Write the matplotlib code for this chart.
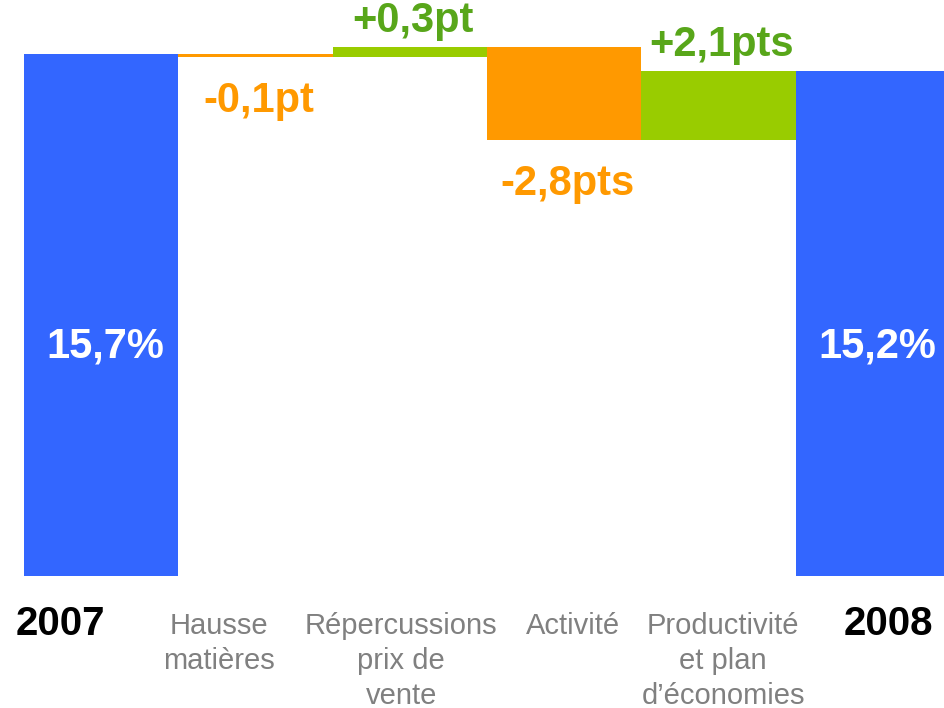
import numpy as np
import matplotlib.pyplot as plt
from matplotlib import transforms

plt.rcParams['font.family'] = ['Liberation Sans', 'DejaVu Sans']

categories = ['2007', 'Hausse\nmatières', 'Répercussions\nprix de\nvente', 'Activité',
              'Productivité\net plan\nd’économies', '2008']
values = [15.7, -0.1, 0.3, -2.8, 2.1, 15.2]
value_labels = ['15,7%', '-0,1pt', '+0,3pt', '-2,8pts', '+2,1pts', '15,2%']
is_total = [True, False, False, False, False, True]

BLUE = '#3366FF'
ORANGE = '#FF9900'
GREEN = '#99CC00'
GREEN_TXT = '#58A61A'
GREY = '#808080'

# label x offsets (in bar units) to match the original slide layout
label_dx = [-0.267, -0.236, -0.057, 0.058, 0.03, 0.10]

fig = plt.figure(figsize=(9.44, 7.08), dpi=100)
ax = fig.add_axes([24 / 944, 132 / 708, 920 / 944, 576 / 708])

x = np.arange(len(values))
bottoms, heights, colors = [], [], []
running = 0.0
for v, tot in zip(values, is_total):
    if tot:
        bottoms.append(0)
        heights.append(v)
        colors.append(BLUE)
        running = v
    else:
        bottoms.append(running)
        heights.append(v)
        colors.append(GREEN if v > 0 else ORANGE)
        running += v

ax.bar(x, heights, bottom=bottoms, width=1.0, color=colors, linewidth=0)

for i, (b, h, tot, lab) in enumerate(zip(bottoms, heights, is_total, value_labels)):
    if tot:
        ax.text(i + 0.03, 6.9, lab, ha='center', va='center', color='white',
                fontsize=30, fontweight='bold')
    elif h < 0:
        ax.annotate(lab, (i + 0.02, b + h), xytext=(0, -44), textcoords='offset pixels',
                    ha='center', va='center', color=ORANGE, fontsize=30, fontweight='bold')
    else:
        ax.annotate(lab, (i + 0.02, b + h), xytext=(0, 26), textcoords='offset pixels',
                    ha='center', va='center', color=GREEN_TXT, fontsize=30, fontweight='bold')

trans = transforms.blended_transform_factory(ax.transData, ax.transAxes)
for i, (cat, tot) in enumerate(zip(categories, is_total)):
    if tot:
        ax.text(i + label_dx[i], -0.083, cat, transform=trans, ha='center', va='center',
                fontsize=29, fontweight='bold', color='black', clip_on=False)
    else:
        ax.text(i + label_dx[i], -0.062, cat, transform=trans, ha='center', va='top',
                fontsize=21, color=GREY, linespacing=1.32, clip_on=False)

ax.set_xlim(-0.5, 5.46)
ax.set_ylim(0, 17.32)
ax.axis('off')

fig.savefig('out.png', dpi=100, facecolor='white')
